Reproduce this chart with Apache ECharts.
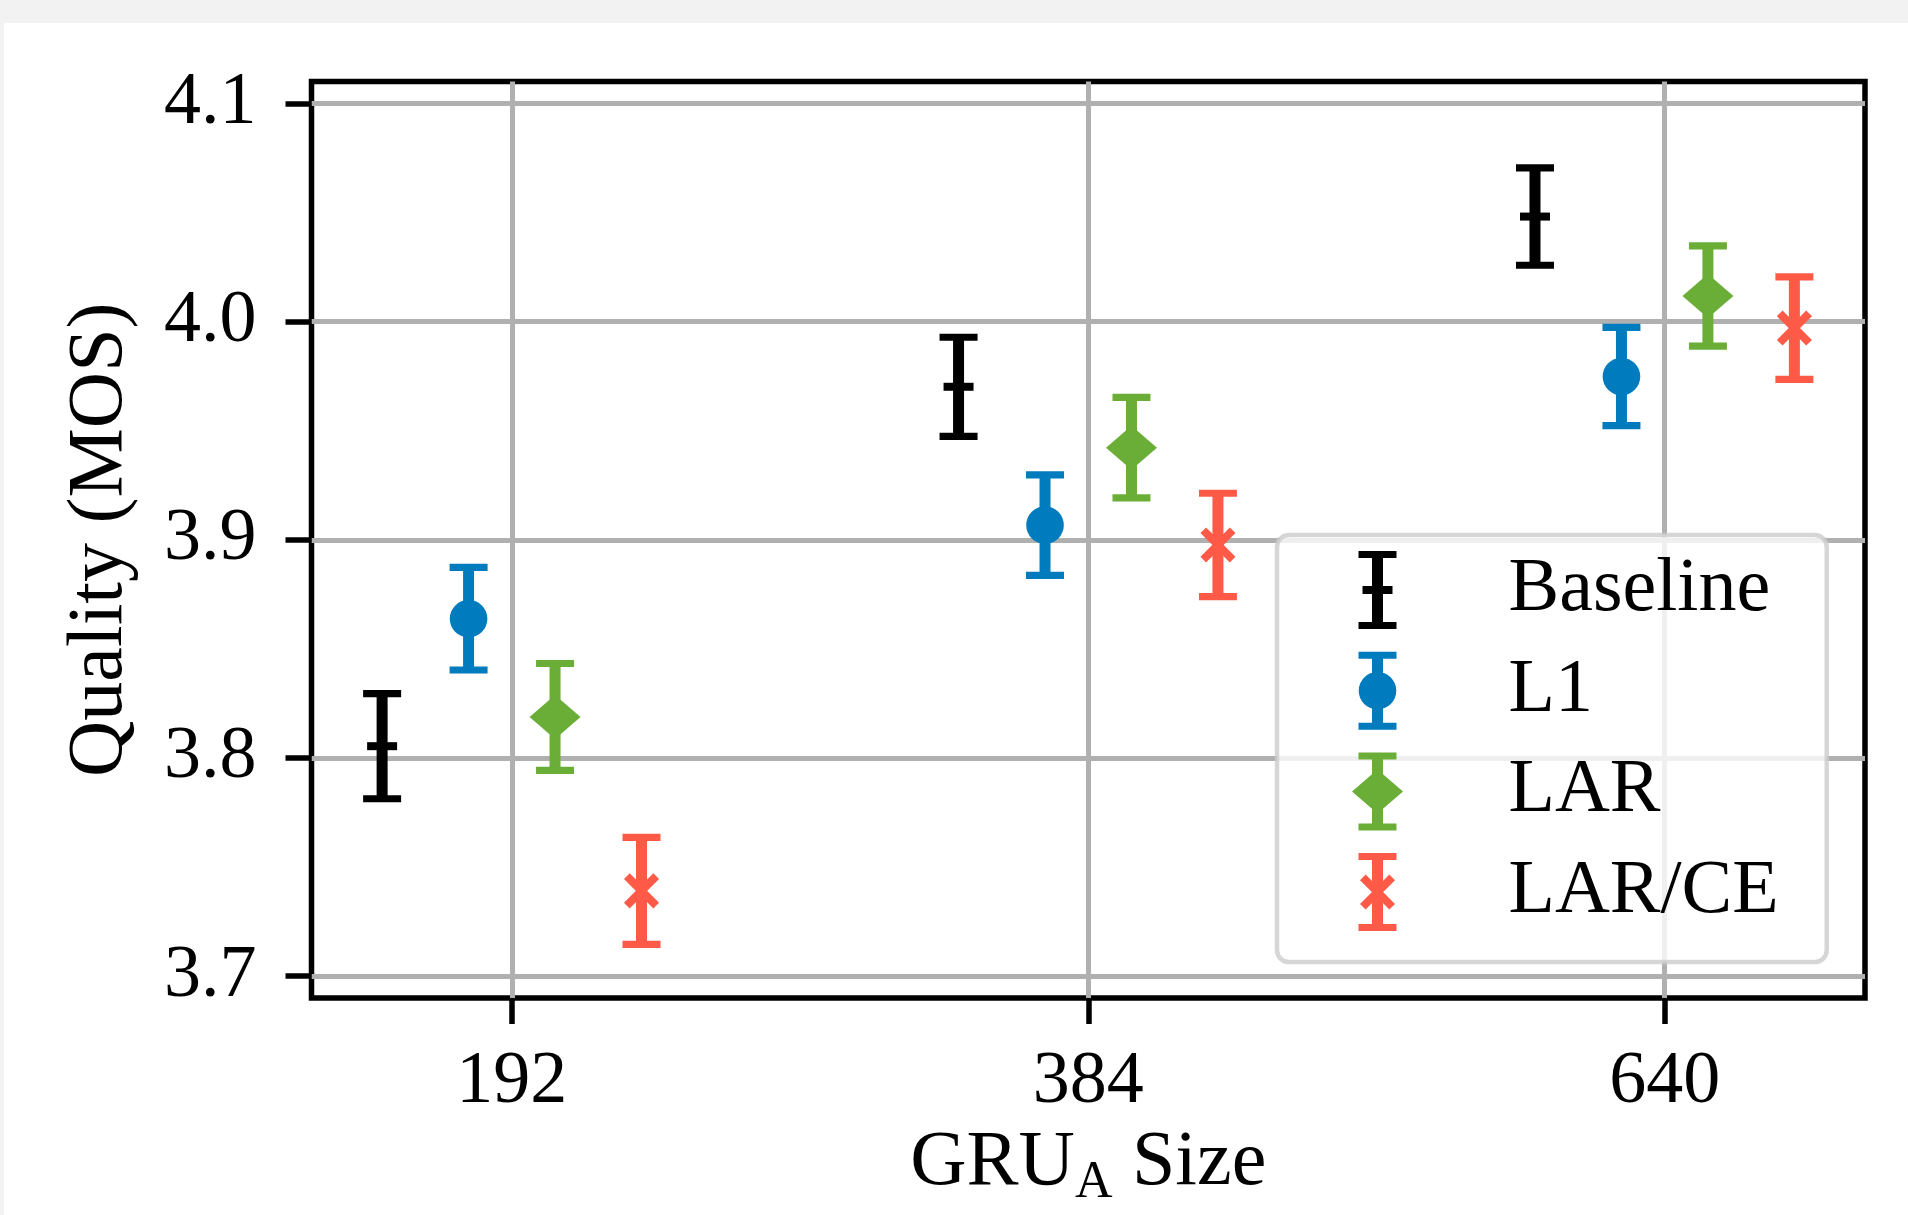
<!DOCTYPE html>
<html>
<head>
<meta charset="utf-8">
<script src="https://cdn.jsdelivr.net/npm/echarts@6/dist/echarts.min.js"></script>
<style>
  html, body { margin: 0; padding: 0; background: #f2f2f2; }
  #chart { position: absolute; left: 4px; top: 23px; width: 1904px; height: 1192px; background: #fff; }
</style>
</head>
<body>
<div id="chart"></div>
<script>
// GRU_A sizes on the x axis
const sizes = ['192', '384', '640'];
const yTicks = [3.7, 3.8, 3.9, 4.0, 4.1];

// mean MOS and half-width of the error bar, per size
const baselineMean = [3.8054, 3.9701, 4.0481];
const baselineErr = [0.0241, 0.0227, 0.0223];
const l1Mean = [3.8638, 3.9067, 3.9748];
const l1Err = [0.0235, 0.0230, 0.0225];
const larMean = [3.8188, 3.9422, 4.0117];
const larErr = [0.0245, 0.0230, 0.0230];
const larceMean = [3.7391, 3.8976, 3.9970];
const larceErr = [0.0245, 0.0237, 0.0235];

const FONT = 'Liberation Serif';

function toData(mean, err, dodge) {
  return mean.map((m, i) => [i + dodge, m, m - err[i], m + err[i]]);
}

function marker(kind, c, color) {
  if (kind === 'hline') {
    return { type: 'rect', shape: { x: c[0] - 15, y: c[1] - 4, width: 30, height: 8 }, style: { fill: color } };
  }
  if (kind === 'circle') {
    return { type: 'circle', shape: { cx: c[0], cy: c[1], r: 18.8 }, style: { fill: color } };
  }
  if (kind === 'diamond') {
    return {
      type: 'polygon',
      shape: { points: [[c[0], c[1] - 22], [c[0] + 25.5, c[1]], [c[0], c[1] + 22], [c[0] - 25.5, c[1]]] },
      style: { fill: color },
    };
  }
  const a = 14.7;
  return {
    type: 'group',
    children: [
      { type: 'line', shape: { x1: c[0] - a, y1: c[1] - a, x2: c[0] + a, y2: c[1] + a }, style: { stroke: color, lineWidth: 8 } },
      { type: 'line', shape: { x1: c[0] - a, y1: c[1] + a, x2: c[0] + a, y2: c[1] - a }, style: { stroke: color, lineWidth: 8 } },
    ],
  };
}

function errorBar(kind) {
  return function (params, api) {
    const x = api.value(0);
    const c = api.coord([x, api.value(1)]);
    const lo = api.coord([x, api.value(2)]);
    const hi = api.coord([x, api.value(3)]);
    const color = api.visual('color');
    return {
      type: 'group',
      children: [
        { type: 'rect', shape: { x: c[0] - 5.5, y: hi[1], width: 11, height: lo[1] - hi[1] }, style: { fill: color } },
        { type: 'rect', shape: { x: c[0] - 19, y: hi[1] - 3.6, width: 38, height: 7.2 }, style: { fill: color } },
        { type: 'rect', shape: { x: c[0] - 19, y: lo[1] - 3.6, width: 38, height: 7.2 }, style: { fill: color } },
        marker(kind, c, color),
      ],
    };
  };
}

// legend glyphs: caps + stem + marker, 78 px tall
const barPath = 'M7 0 H45 V7 H7 Z M7 71 H45 V78 H7 Z M20.5 3.5 H31.5 V74.5 H20.5 Z ';
const icons = {
  hline: 'path://' + barPath + 'M11 35 H41 V43 H11 Z',
  circle: 'path://' + barPath + 'M7.2 39 A18.8 18.8 0 1 1 44.8 39 A18.8 18.8 0 1 1 7.2 39 Z',
  diamond: 'path://' + barPath + 'M26 17 L51.5 39 L26 61 L0.5 39 Z',
  x: 'path://' + barPath
    + 'M8.5 27.1 L14.1 21.5 L43.5 50.9 L37.9 56.5 Z '
    + 'M43.5 27.1 L14.1 56.5 L8.5 50.9 L37.9 21.5 Z',
};

const series = [
  { name: 'Baseline', kind: 'hline', color: '#000000', mean: baselineMean, err: baselineErr, dodge: -0.225 },
  { name: 'L1', kind: 'circle', color: '#007bbd', mean: l1Mean, err: l1Err, dodge: -0.075 },
  { name: 'LAR', kind: 'diamond', color: '#6aae37', mean: larMean, err: larErr, dodge: 0.075 },
  { name: 'LAR/CE', kind: 'x', color: '#ff5a48', mean: larceMean, err: larceErr, dodge: 0.225 },
];

const chart = echarts.init(document.getElementById('chart'));
chart.setOption({
  animation: false,
  textStyle: { fontFamily: FONT, color: '#000' },
  grid: {
    left: 307.5,
    right: 43,
    top: 58.5,
    bottom: 217,
    show: true,
    borderColor: '#000',
    borderWidth: 5.5,
    backgroundColor: 'transparent',
  },
  legend: {
    left: 1273,
    top: 512,
    orient: 'vertical',
    selectedMode: false,
    itemWidth: 52,
    itemHeight: 78,
    itemGap: 22.7,
    padding: [16, 48, 31, 75],
    backgroundColor: 'rgba(255,255,255,0.8)',
    borderColor: 'rgba(204,204,204,0.8)',
    borderWidth: 4.5,
    borderRadius: 12,
    textStyle: {
      fontFamily: FONT,
      fontSize: 76,
      lineHeight: 62,
      color: '#000',
      padding: [12, 0, 0, 100],
    },
    data: series.map(s => ({ name: s.name, icon: icons[s.kind] })),
  },
  xAxis: {
    type: 'value',
    min: -0.3475,
    max: 2.3475,
    name: '{m|GRU}{s|A}{m| Size}',
    nameLocation: 'middle',
    nameGap: 121,
    nameTextStyle: {
      rich: {
        m: { fontFamily: FONT, fontSize: 78, lineHeight: 90, color: '#000' },
        s: { fontFamily: FONT, fontSize: 52, lineHeight: 52, color: '#000', verticalAlign: 'bottom' },
      },
    },
    axisLine: { show: false, onZero: false },
    axisTick: {
      show: true,
      customValues: [0, 1, 2],
      length: 26,
      lineStyle: { color: '#000', width: 5.5 },
    },
    axisLabel: {
      customValues: [0, 1, 2],
      formatter: v => sizes[Math.round(v)],
      fontFamily: FONT,
      fontSize: 74,
      color: '#000',
      margin: 48,
    },
    splitLine: { show: true, lineStyle: { color: '#b0b0b0', width: 5 } },
  },
  yAxis: {
    type: 'value',
    min: 3.69,
    max: 4.11,
    name: 'Quality (MOS)',
    nameLocation: 'middle',
    nameRotate: 90,
    nameGap: 172,
    nameTextStyle: { fontFamily: FONT, fontSize: 78, color: '#000' },
    axisLine: { show: false, onZero: false },
    axisTick: {
      show: true,
      customValues: yTicks,
      length: 26,
      lineStyle: { color: '#000', width: 5.5 },
    },
    axisLabel: {
      customValues: yTicks,
      formatter: v => v.toFixed(1),
      fontFamily: FONT,
      fontSize: 74,
      color: '#000',
      margin: 55,
    },
    splitLine: { show: true, lineStyle: { color: '#b0b0b0', width: 5 } },
  },
  series: series.map(s => ({
    name: s.name,
    type: 'custom',
    renderItem: errorBar(s.kind),
    itemStyle: { color: s.color },
    encode: { x: 0, y: [1, 2, 3] },
    clip: false,
    data: toData(s.mean, s.err, s.dodge),
  })),
});
</script>
</body>
</html>
